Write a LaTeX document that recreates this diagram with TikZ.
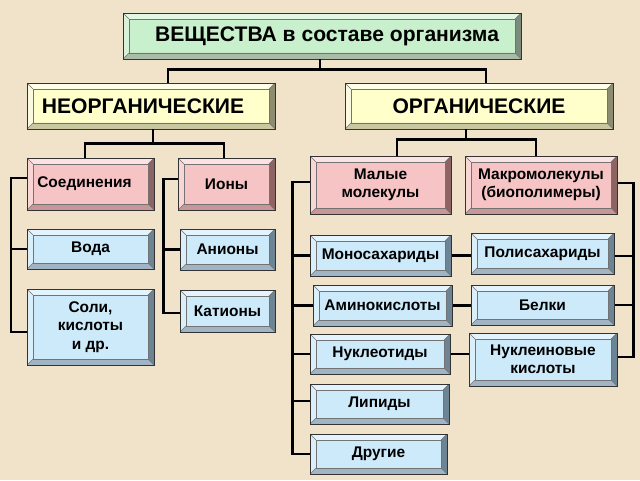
\documentclass[tikz,border=0pt]{standalone}
\usepackage{fontspec}
\setmainfont{Liberation Sans}

% Farben der Kaesten: F Flaeche, T oben, L links, R rechts, B unten
\definecolor{papier}{HTML}{F1E3C9}
\definecolor{gruenF}{HTML}{C8F0CC}
\definecolor{gruenT}{HTML}{E2F8E4}
\definecolor{gruenL}{HTML}{D8F2DA}
\definecolor{gruenR}{HTML}{7C8C7C}
\definecolor{gruenB}{HTML}{A8BCA8}
\definecolor{gelbF}{HTML}{FFFFCC}
\definecolor{gelbT}{HTML}{FFFFEA}
\definecolor{gelbL}{HTML}{FAFAE0}
\definecolor{gelbR}{HTML}{8C8C70}
\definecolor{gelbB}{HTML}{C8C8A0}
\definecolor{rosaF}{HTML}{F6C4C4}
\definecolor{rosaT}{HTML}{FCE2E2}
\definecolor{rosaL}{HTML}{F9D6D6}
\definecolor{rosaR}{HTML}{8C6464}
\definecolor{rosaB}{HTML}{C89696}
\definecolor{blauF}{HTML}{CCEAFA}
\definecolor{blauT}{HTML}{E4F4FF}
\definecolor{blauL}{HTML}{DAEFFA}
\definecolor{blauR}{HTML}{6C8494}
\definecolor{blauB}{HTML}{A0B4C4}

\begin{document}
\begin{tikzpicture}[
    bev/.style={draw=black!80, line width=0.7pt, fill=#1F, inner sep=0pt, align=center,
        font=\bfseries\fontsize{11}{13}\selectfont, path picture={\bevel{#1}}},
    gross/.style={font=\bfseries\fontsize{15}{17}\selectfont},
    linie/.style={line width=1.5pt, black}
]
    \def\bevel#1{
    \path (path picture bounding box.south west) coordinate (sw)
          (path picture bounding box.north east) coordinate (ne);
    \coordinate (isw) at ([shift={(0.15,0.15)}]sw);
    \coordinate (ine) at ([shift={(-0.15,-0.15)}]ne);
    \fill[#1T] (sw |- ne) -- (ne) -- (ine) -- (isw |- ine) -- cycle;
    \fill[#1R] (ne) -- (ne |- sw) -- (ine |- isw) -- (ine) -- cycle;
    \fill[#1B] (ne |- sw) -- (sw) -- (isw) -- (ine |- isw) -- cycle;
    \fill[#1L] (sw) -- (sw |- ne) -- (isw |- ine) -- (isw) -- cycle;
    \draw[black!55, thin] (isw) rectangle (ine);
    \draw[black!55, thin] (sw) -- (isw) (ne) -- (ine) (sw |- ne) -- (isw |- ine) (ne |- sw) -- (ine |- isw);
    }

    \fill[papier] (0,0) rectangle (16,12);
    \useasboundingbox (0,0) rectangle (16,12);

    % Kaesten
    \node[bev=gruen, gross, minimum width=9.95cm, minimum height=1.15cm] (vesh) at (8.05,11.1) {\hspace{0.25cm}ВЕЩЕСТВА в составе организма};
    \node[bev=gelb, gross, minimum width=6.2cm, minimum height=1.15cm] (neorg) at (3.775,9.35) {НЕОРГАНИЧЕСКИЕ\hspace{0.4cm}};
    \node[bev=gelb, gross, minimum width=6.7cm, minimum height=1.15cm] (org) at (11.975,9.35) {ОРГАНИЧЕСКИЕ};

    \node[bev=rosa, minimum width=3.175cm, minimum height=1.3cm] (soed) at (2.2625,7.4) {Соединения\hspace{0.3cm}};
    \node[bev=rosa, minimum width=2.425cm, minimum height=1.3cm] (iony) at (5.6625,7.4) {Ионы};
    \node[bev=rosa, minimum width=3.525cm, minimum height=1.45cm] (malye) at (9.5125,7.375) {Малые\\молекулы};
    \node[bev=rosa, minimum width=3.8cm, minimum height=1.45cm] (makro) at (13.525,7.375) {Макромолекулы\\(биополимеры)};

    \node[bev=blau, minimum width=3.175cm, minimum height=1.0cm] (voda) at (2.2625,5.775) {Вода};
    \node[bev=blau, minimum width=3.175cm, minimum height=1.9cm] (soli) at (2.2625,3.825) {Соли,\\кислоты\\и др.};
    \node[bev=blau, minimum width=2.375cm, minimum height=1.025cm] (aniony) at (5.6875,5.7625) {Анионы};
    \node[bev=blau, minimum width=2.375cm, minimum height=1.05cm] (kationy) at (5.6875,4.225) {Катионы};

    \node[bev=blau, minimum width=3.525cm, minimum height=1.025cm] (mono) at (9.5125,5.6125) {Моносахариды};
    \node[bev=blau, minimum width=3.575cm, minimum height=1.025cm] (poli) at (13.5625,5.6625) {Полисахариды};
    \node[bev=blau, minimum width=3.475cm, minimum height=1.025cm] (amino) at (9.5625,4.3625) {Аминокислоты};
    \node[bev=blau, minimum width=3.575cm, minimum height=1.0cm] (belki) at (13.5625,4.375) {Белки};
    \node[bev=blau, minimum width=3.5cm, minimum height=1.0cm] (nukleot) at (9.5,3.15) {Нуклеотиды};
    \node[bev=blau, minimum width=3.7cm, minimum height=1.325cm] (nuklein) at (13.575,3.0125) {Нуклеиновые\\кислоты};
    \node[bev=blau, minimum width=3.475cm, minimum height=1.0cm] (lipidy) at (9.4875,1.9) {Липиды};
    \node[bev=blau, minimum width=3.425cm, minimum height=1.0cm] (drugie) at (9.4625,0.65) {Другие};

    % Verbindungen
    \draw[linie] ([xshift=-0.05cm]vesh.south) -- ++(0,-0.25) coordinate (v1);
    \draw[linie] (v1) -| ([xshift=0.425cm]neorg.north);
    \draw[linie] (v1) -| ([xshift=0.175cm]org.north);

    \draw[linie] ([xshift=0.05cm]neorg.south) -- ++(0,-0.35) coordinate (n1);
    \draw[linie] (n1) -| ([xshift=-0.14cm]soed.north);
    \draw[linie] (n1) -| ([xshift=-0.06cm]iony.north);

    \draw[linie] ([xshift=-0.325cm]org.south) -- ++(0,-0.25) coordinate (o1);
    \draw[linie] (o1) -| ([xshift=0.41cm]malye.north);
    \draw[linie] (o1) -| ([xshift=-0.125cm]makro.north);

    % Klammern links
    \draw[linie] ([yshift=0.15cm]soed.west) -| ([xshift=-0.38cm,yshift=-0.13cm]soli.west) -- ([yshift=-0.13cm]soli.west);
    \draw[linie] (voda.west) -- ++(-0.38,0);

    \draw[linie] ([yshift=0.125cm]iony.west) -| ([xshift=-0.4cm,yshift=-0.05cm]kationy.west) -- ([yshift=-0.05cm]kationy.west);
    \draw[linie] (aniony.west) -- ++(-0.4,0);

    \draw[linie] ([yshift=0.075cm]malye.west) -| ([xshift=-0.425cm]drugie.west) -- (drugie.west);
    \draw[linie] (mono.west) -- ++(-0.425,0);
    \draw[linie] (amino.west) -- ++(-0.5,0);
    \draw[linie] (nukleot.west) -- ++(-0.425,0);
    \draw[linie] ([yshift=0.075cm]lipidy.west) -- ++(-0.425,0);

    \draw[linie] ([yshift=0.05cm]makro.east) -| ([xshift=0.4cm,yshift=0.06cm]nuklein.east) -- ([yshift=0.06cm]nuklein.east);
    \draw[linie] ([yshift=-0.06cm]poli.east) -- ++(0.475,0);
    \draw[linie] (belki.east) -- ++(0.475,0);

    \draw[linie] (mono.east) -- (mono.east -| poli.west);
    \draw[linie] (amino.east) -- (amino.east -| belki.west);
    \draw[linie] (nukleot.east) -- (nukleot.east -| nuklein.west);
\end{tikzpicture}
\end{document}
